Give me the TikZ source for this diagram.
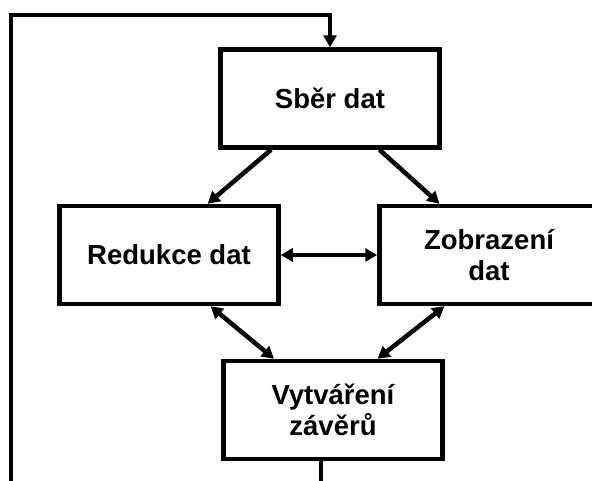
\documentclass[tikz,border=0pt]{standalone}
\usepackage{fontspec}
\setmainfont{Liberation Sans}
\usetikzlibrary{calc,arrows.meta}

\begin{document}
\begin{tikzpicture}[x=1pt,y=-1pt,
    box/.style={draw,line width=4.5pt,minimum width=219pt,minimum height=98pt,
      align=center,font=\fontsize{27.5}{31}\selectfont\bfseries},
    arr/.style={line width=4.5pt,-{Triangle[length=12pt,width=13pt]}},
    darr/.style={line width=4.5pt,{Triangle[length=12pt,width=13pt]}-{Triangle[length=12pt,width=13pt]}}]
      \useasboundingbox (0,0) rectangle (592,480);
      \node[box] (sber) at (330,98.5) {Sběr dat};
      \node[box] (red) at (169,255) {Redukce dat};
      \node[box] (zob) at (489,255) {Zobrazení\\dat};
      \node[box] (vyt) at (333,410) {Vytváření\\závěrů};
      \draw[arr] (sber.221) -- (red.53);
      \draw[arr] (sber.-46) -- (zob.134);
      \draw[darr] (red.east) -- (zob.west);
      \draw[darr] (red.-51) -- (vyt.139);
      \draw[darr] (zob.229) -- (vyt.49);
      % loop back, its lower part lies below the page
      \coordinate (loopbl) at (11,500);
      \coordinate (looptl) at (11,15);
      \draw[arr,line join=miter] ($(vyt.south)+(-12,0)$) |- (loopbl) -- (looptl) -| (sber.north);
\end{tikzpicture}
\end{document}
